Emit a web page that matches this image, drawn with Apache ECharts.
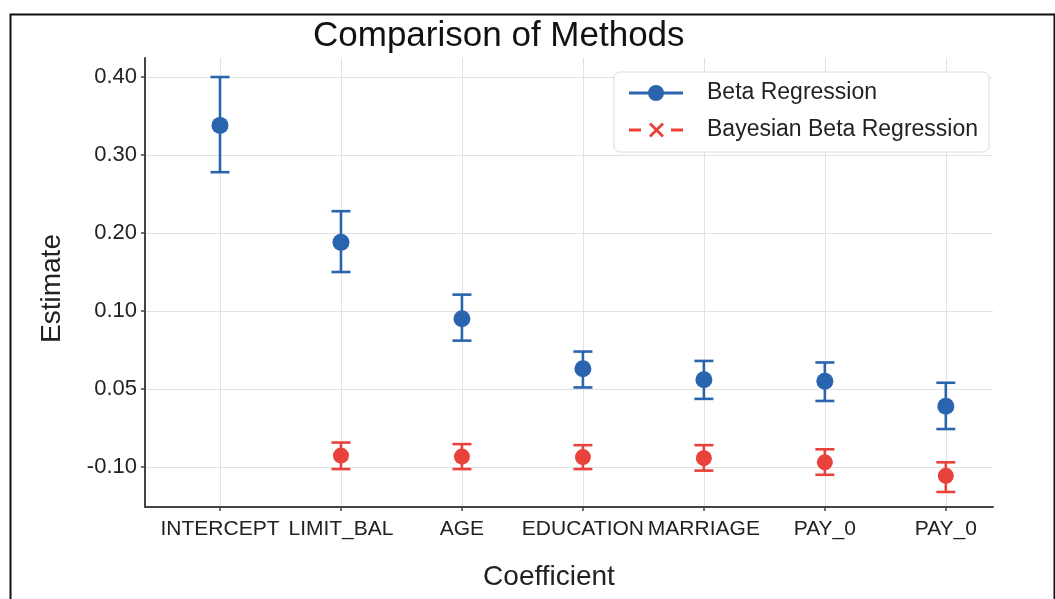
<!DOCTYPE html>
<html>
<head>
<meta charset="utf-8">
<script src="https://cdn.jsdelivr.net/npm/echarts@6/dist/echarts.min.js"></script>
<style>
  html, body { margin: 0; padding: 0; background: #ffffff; }
  #chart { width: 1055px; height: 599px; }
</style>
</head>
<body>
<div id="chart"></div>
<script>
// ---- Data ----
const categories = ['INTERCEPT', 'LIMIT_BAL', 'AGE', 'EDUCATION', 'MARRIAGE', 'PAY_0', 'PAY_0'];
const yTickValues = [-0.10, 0.05, 0.10, 0.20, 0.30, 0.40];
const yTickLabels = ['-0.10', '0.05', '0.10', '0.20', '0.30', '0.40'];

const betaEst  = [0.338, 0.188, 0.095, 0.063, 0.056, 0.055, 0.017];
const betaLow  = [0.278, 0.150, 0.081, 0.051, 0.031, 0.027, -0.027];
const betaHigh = [0.400, 0.228, 0.121, 0.074, 0.068, 0.067, 0.054];

const bayesEst  = [null, -0.078, -0.080, -0.081, -0.083, -0.091, -0.117];
const bayesLow  = [null, -0.104, -0.104, -0.104, -0.107, -0.115, -0.148];
const bayesHigh = [null, -0.053, -0.056, -0.058, -0.058, -0.066, -0.091];

const seriesNames = ['Beta Regression', 'Bayesian Beta Regression'];
const colors = ['#2b64ae', '#e8423a'];

// The reference axis spaces its (non-linear) tick labels evenly:
// map an estimate onto that piecewise-linear tick scale.
function toPos(v) {
  const t = yTickValues;
  let i = 0;
  if (v >= t[t.length - 1]) i = t.length - 2;
  else { while (i < t.length - 2 && v > t[i + 1]) i++; }
  return i + (v - t[i]) / (t[i + 1] - t[i]);
}

function pointData(est) {
  const out = [];
  est.forEach((v, i) => { if (v !== null) out.push([i, toPos(v)]); });
  return out;
}
function barData(lo, hi) {
  const out = [];
  lo.forEach((v, i) => { if (v !== null) out.push([i, toPos(v), toPos(hi[i])]); });
  return out;
}

function errorBarRender(color) {
  return function (params, api) {
    const x = api.value(0);
    const pLo = api.coord([x, api.value(1)]);
    const pHi = api.coord([x, api.value(2)]);
    const hw = 9.5;
    const style = { stroke: color, lineWidth: 2.6, fill: null };
    return {
      type: 'group',
      children: [
        { type: 'line', shape: { x1: pLo[0], y1: pLo[1], x2: pHi[0], y2: pHi[1] }, style: style },
        { type: 'line', shape: { x1: pHi[0] - hw, y1: pHi[1], x2: pHi[0] + hw, y2: pHi[1] }, style: style },
        { type: 'line', shape: { x1: pLo[0] - hw, y1: pLo[1], x2: pLo[0] + hw, y2: pLo[1] }, style: style }
      ]
    };
  };
}

const yPositions = yTickValues.map((v, i) => i);
const xPositions = categories.map((c, i) => i);

const iconBeta = 'path://M0,7 L54,7 L54,10 L0,10 Z M35,8.5 A8,8 0 1 1 19,8.5 A8,8 0 1 1 35,8.5 Z';
const iconBayes = 'path://M0,7 L12,7 L12,10 L0,10 Z M42,7 L54,7 L54,10 L42,10 Z M20,3 L22,1 L35,14 L33,16 Z M33,1 L35,3 L22,16 L20,14 Z M27,0.5 L27,0.5 Z M27,16.5 L27,16.5 Z';

const chart = echarts.init(document.getElementById('chart'), null, { renderer: 'canvas' });
const FONT = '"Liberation Sans", Arial, Helvetica, sans-serif';

chart.setOption({
  animation: false,
  backgroundColor: '#ffffff',
  textStyle: { fontFamily: FONT },
  title: {
    text: 'Comparison of Methods',
    left: 313,
    top: 19,
    padding: 0,
    textStyle: { fontFamily: FONT, fontSize: 35, fontWeight: 'normal', color: '#111111' }
  },
  legend: {
    orient: 'vertical',
    left: 614,
    top: 72,
    z: 20,
    padding: [8, 11, 9, 15],
    itemGap: 11,
    itemWidth: 54,
    itemHeight: 17,
    borderColor: '#dcdcdc',
    borderWidth: 1,
    borderRadius: 6,
    backgroundColor: '#ffffff',
    textStyle: { fontFamily: FONT, fontSize: 23, color: '#222222', lineHeight: 26, padding: [0, 0, 0, 19] },
    data: [
      { name: seriesNames[0], icon: iconBeta },
      { name: seriesNames[1], icon: iconBayes }
    ]
  },
  graphic: [
    { type: 'rect', left: 8, top: 12, shape: { width: 1044, height: 600 },
      style: { fill: null, stroke: '#111111', lineWidth: 2 }, silent: true, z: 100 }
  ],
  grid: { left: 145, top: 58, width: 848, height: 449, containLabel: false },
  xAxis: {
    type: 'value',
    min: -0.62,
    max: 6.39,
    name: 'Coefficient',
    nameLocation: 'middle',
    nameGap: 56,
    nameTextStyle: { fontFamily: FONT, fontSize: 28, color: '#222222', padding: [0, 40, 0, 0] },
    axisLine: { show: true, onZero: false, lineStyle: { color: '#444444', width: 2 } },
    axisTick: { show: true, length: 4, customValues: xPositions, lineStyle: { color: '#444444', width: 1.5 } },
    axisLabel: {
      customValues: xPositions,
      margin: 12,
      fontFamily: FONT, fontSize: 21, color: '#222222',
      formatter: function (v) { return categories[Math.round(v)]; }
    },
    splitLine: { show: false }
  },
  yAxis: {
    type: 'value',
    min: -0.513,
    max: 5.244,
    name: 'Estimate',
    nameLocation: 'middle',
    nameRotate: 90,
    nameGap: 79,
    nameTextStyle: { fontFamily: FONT, fontSize: 28, color: '#222222', padding: [0, 12, 0, 0] },
    axisLine: { show: true, onZero: false, lineStyle: { color: '#444444', width: 2 } },
    axisTick: { show: true, length: 4, customValues: yPositions, lineStyle: { color: '#444444', width: 1.5 } },
    axisLabel: {
      customValues: yPositions,
      margin: 8,
      fontFamily: FONT, fontSize: 22, color: '#222222',
      formatter: function (v) { return yTickLabels[Math.round(v)]; }
    },
    splitLine: { show: false }
  },
  series: [
    {
      name: 'gridlines',
      type: 'line',
      data: [],
      z: 0,
      silent: true,
      markLine: {
        z: 0,
        silent: true,
        symbol: ['none', 'none'],
        label: { show: false },
        emphasis: { disabled: true },
        lineStyle: { color: '#e2e2e2', width: 1, type: 'solid' },
        data: yPositions.map(p => ({ yAxis: p })).concat(xPositions.map(p => ({ xAxis: p })))
      }
    },
    {
      name: seriesNames[0],
      type: 'custom',
      renderItem: errorBarRender(colors[0]),
      encode: { x: 0, y: [1, 2] },
      itemStyle: { color: colors[0] },
      data: barData(betaLow, betaHigh),
      z: 6
    },
    {
      name: seriesNames[0],
      type: 'scatter',
      symbol: 'circle',
      symbolSize: 17,
      itemStyle: { color: colors[0], opacity: 1 },
      data: pointData(betaEst),
      z: 7
    },
    {
      name: seriesNames[1],
      type: 'custom',
      renderItem: errorBarRender(colors[1]),
      encode: { x: 0, y: [1, 2] },
      itemStyle: { color: colors[1] },
      data: barData(bayesLow, bayesHigh),
      z: 6
    },
    {
      name: seriesNames[1],
      type: 'scatter',
      symbol: 'circle',
      symbolSize: 16,
      itemStyle: { color: colors[1], opacity: 1 },
      data: pointData(bayesEst),
      z: 7
    }
  ]
});
</script>
</body>
</html>
